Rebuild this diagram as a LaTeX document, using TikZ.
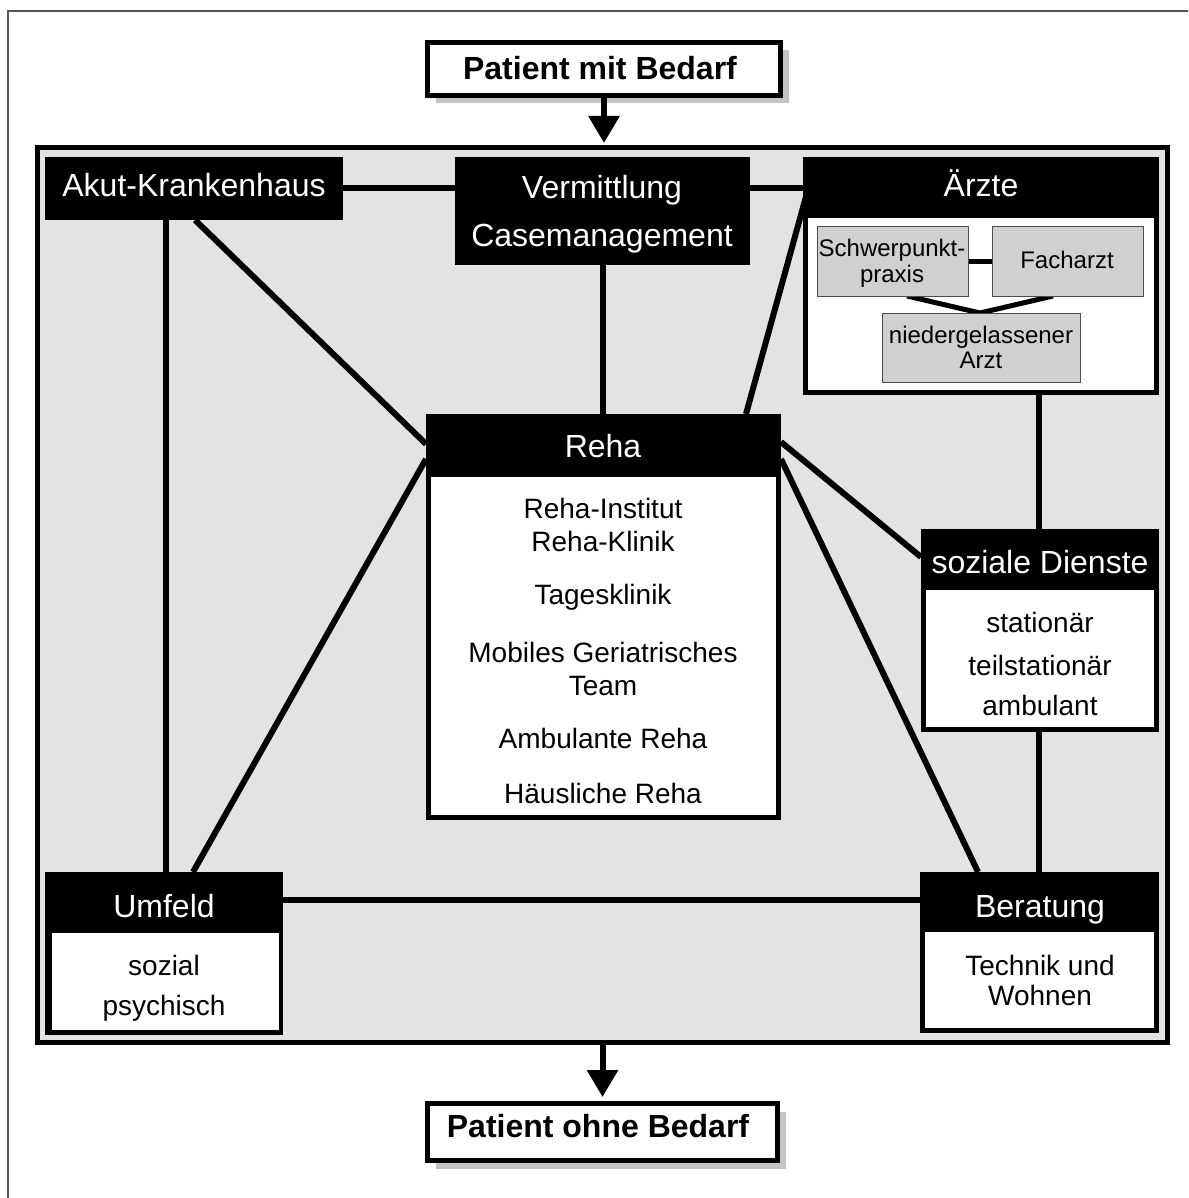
\documentclass[tikz,border=0pt]{standalone}
\usepackage{fontspec}
\setmainfont{Liberation Sans}
\usetikzlibrary{calc,arrows.meta,shadows}
\pgfdeclarelayer{back}
\pgfdeclarelayer{mid}
\pgfdeclarelayer{upper}
\pgfdeclarelayer{top}
\pgfsetlayers{back,mid,main,upper,top}
\definecolor{framegray}{HTML}{E3E3E3}
\definecolor{innergray}{HTML}{D0D0D0}
\definecolor{shadowgray}{HTML}{C4C4C4}
\definecolor{pagegray}{HTML}{555555}
\begin{document}
\begin{tikzpicture}[x=1pt,y=-1pt,
  blackbox/.style={rectangle, fill=black, inner sep=0, outer sep=0, anchor=north west},
  patbox/.style={rectangle, draw=black, line width=5pt, fill=white, inner sep=0, anchor=north west,
    drop shadow={shadow xshift=8pt, shadow yshift=-8pt, fill=shadowgray, opacity=1}},
  graybox/.style={rectangle, draw=black!70, line width=1pt, fill=innergray, inner sep=0, outer sep=0, anchor=north west},
  hdr/.style={anchor=base, inner sep=0, text=white, font=\fontsize{32}{36}\selectfont},
  body/.style={anchor=base, inner sep=0, font=\fontsize{28}{33}\selectfont},
  small/.style={anchor=base, inner sep=0, font=\fontsize{24}{28}\selectfont},
  boldtxt/.style={anchor=base, inner sep=0, font=\fontsize{32}{36}\selectfont\bfseries},
  conn/.style={line width=6pt},
  thinconn/.style={line width=5pt},
  flow/.style={line width=6pt, -{Triangle[width=30pt,length=27pt]}},
]
\useasboundingbox (0,0) rectangle (1188,1198);
\begin{pgfonlayer}{back}
\fill[white] (0,0) rectangle (1188,1198);
\draw[pagegray, line width=1.2pt] (8,1198) -- (8,11) -- (1188,11);
% outer frame
\node[draw=black, line width=5pt, fill=framegray, inner sep=0, anchor=north west,
      minimum width=1130pt, minimum height=895pt] (frame) at (35,145) {};
\end{pgfonlayer}

% patient boxes
\node[patbox, minimum width=353pt, minimum height=53pt] (pmb) at (425,40) {};
\node[boldtxt] (pmbt) at (600,80) {Patient mit Bedarf};
\node[patbox, minimum width=350pt, minimum height=57pt] (pob) at (425,1101) {};
\node[boldtxt] (pobt) at (598,1137) {Patient ohne Bedarf};

% black boxes
\node[blackbox, minimum width=298pt, minimum height=63pt] (akut) at (45,157) {};
\node[blackbox, minimum width=295pt, minimum height=108pt] (verm) at (455,157) {};
\node[blackbox, minimum width=356pt, minimum height=238pt] (arzte) at (803,157) {};
\node[blackbox, minimum width=355pt, minimum height=406pt] (reha) at (426,414) {};
\node[blackbox, minimum width=238pt, minimum height=203pt] (soz) at (921,529) {};
\node[blackbox, minimum width=238pt, minimum height=163pt] (umf) at (45,872) {};
\node[blackbox, minimum width=239pt, minimum height=161pt] (ber) at (920,872) {};

% white content areas
\fill[white] ($(arzte.north west)+(5,61)$) rectangle ($(arzte.south east)+(-5,-5)$);
\fill[white] ($(reha.north west)+(5,63)$) rectangle ($(reha.south east)+(-5,-5)$);
\fill[white] ($(soz.north west)+(5,61)$) rectangle ($(soz.south east)+(-5,-5)$);
\fill[white] ($(umf.north west)+(7,61)$) rectangle ($(umf.south east)+(-4,-5)$);
\fill[white] ($(ber.north west)+(5,60)$) rectangle ($(ber.south east)+(-5,-5)$);

% inner boxes of Aerzte
\begin{pgfonlayer}{top}
\node[graybox, minimum width=151pt, minimum height=69pt] (sp) at (817,227) {};
\node[graybox, minimum width=151pt, minimum height=69pt] (fa) at (992,227) {};
\node[graybox, minimum width=198pt, minimum height=69pt] (na) at (882,313) {};
\node[small] (spt1) at (892,256) {Schwerpunkt-};
\node[small] (spt2) at (892,282) {praxis};
\node[small] (fat) at (1067,268) {Facharzt};
\node[small] (nat1) at (981,343) {niedergelassener};
\node[small] (nat2) at (981,368) {Arzt};
\end{pgfonlayer}

% headers
\node[hdr] (akutt) at (194,197) {Akut-Krankenhaus};
\node[hdr] (vermt1) at (602,199) {Vermittlung};
\node[hdr] (vermt2) at (602,247) {Casemanagement};
\node[hdr] (arztet) at (981,197) {Ärzte};
\node[hdr] (rehat) at (603,457) {Reha};
\node[hdr] (sozt) at (1040,573) {soziale Dienste};
\node[hdr] (umft) at (164,917) {Umfeld};
\node[hdr] (bert) at (1040,917) {Beratung};

% Reha text
\node[body] (r1) at (603,518) {Reha-Institut};
\node[body] (r2) at (603,551) {Reha-Klinik};
\node[body] (r3) at (603,604) {Tagesklinik};
\node[body] (r4) at (603,662) {Mobiles Geriatrisches};
\node[body] (r5) at (603,695) {Team};
\node[body] (r6) at (603,748) {Ambulante Reha};
\node[body] (r7) at (603,803) {Häusliche Reha};

% soziale Dienste text
\node[body] (s1) at (1040,632) {stationär};
\node[body] (s2) at (1040,675) {teilstationär};
\node[body] (s3) at (1040,715) {ambulant};

% Umfeld text
\node[body] (u1) at (164,975) {sozial};
\node[body] (u2) at (164,1015) {psychisch};

% Beratung text
\node[body] (b1) at (1040,975) {Technik und};
\node[body] (b2) at (1040,1005) {Wohnen};

% connectors
\begin{pgfonlayer}{mid}
\draw[conn] (akut.east) -- (akut.east -| verm.west);
\draw[conn] ($(verm.north east)+(0,31)$) -- ($(arzte.north west)+(0,31)$);
\draw[conn] ($(akut.south west)+(121,0)$) -- ($(umf.north west)+(121,0)$);
\draw[conn] ($(akut.south west)+(150,0)$) -- ($(reha.north west)+(0,30)$);
\draw[conn] (verm.south) -- (verm.south |- reha.north);
\draw[conn] ($(reha.north west)+(320,0)$) -- ($(arzte.north west)+(4,36)$);
\draw[conn] ($(reha.north east)+(0,28)$) -- ($(soz.north west)+(0,28)$);
\draw[conn] ($(reha.north east)+(0,45)$) -- ($(ber.north west)+(58,0)$);
\draw[conn] ($(reha.north west)+(0,45)$) -- ($(umf.north west)+(148,0)$);
\draw[conn] ($(arzte.south west)+(236,0)$) -- ($(soz.north west)+(118,0)$);
\draw[conn] ($(soz.south west)+(118,0)$) -- ($(ber.north west)+(119,0)$);
\draw[conn] ($(umf.north east)+(0,28)$) -- ($(ber.north west)+(0,28)$);
\end{pgfonlayer}

% inner Aerzte connectors (above white area, under gray boxes)
\begin{pgfonlayer}{upper}
\draw[thinconn] (sp.east) -- (fa.west);
\draw[thinconn, line join=miter] ($(sp.south west)+(90,0)$) -- ($(na.north west)+(98,0)$) -- ($(fa.south west)+(61,0)$);
\end{pgfonlayer}

% flow arrows
\draw[flow, shorten >=2pt] (pmb.south) -- (pmb.south |- frame.north);
\draw[flow, shorten >=4pt] (frame.south -| pob.north) -- (pob.north);
\end{tikzpicture}
\end{document}
